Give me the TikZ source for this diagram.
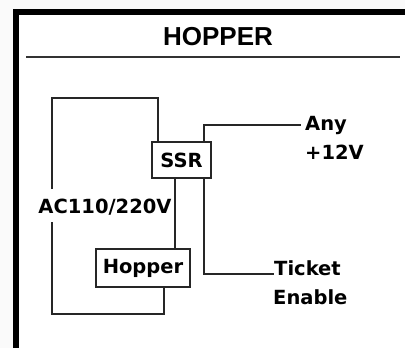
\documentclass[tikz,border=0pt]{standalone}
\usepackage{fontspec}
\setmainfont{Liberation Sans}
\newfontfamily\labelfont{DejaVu Sans}
\tikzset{
    wire/.style={line width=1.2pt, color=black!85},
    lbl/.style={font=\labelfont\bfseries\fontsize{19.5}{20}\selectfont, inner sep=0pt, anchor=west},
    device/.style={lbl, anchor=center, draw=black!85, line width=1.2pt, fill=white}
}
\begin{document}
\begin{tikzpicture}[x=1pt,y=-1pt]
    \useasboundingbox (0,0) rectangle (405,348);
    % Draw the frame
    \fill[black!2] (0,0) rectangle (405,348);
    \fill[white] (13,9) rectangle (405,348);
    \fill[black] (13,9) rectangle (405,14.5);
    \fill[black] (13,9) rectangle (19,348);
    % Title and its rule
    \node[font=\bfseries\fontsize{26}{28}\selectfont, inner sep=0pt] (title) at (218,37) {HOPPER};
    \coordinate (ruleL) at (26,57);
    \coordinate (ruleR) at (400,57);
    \draw[line width=1.5pt, color=black!80] (ruleL) -- (ruleR);
    % Boxes
    \node[device, minimum width=59pt, minimum height=36pt] (ssr) at (181.5,160) {SSR};
    \node[device, minimum width=94pt, minimum height=38pt] (hopper) at (143,268) {Hopper};
    % Labels
    \node[lbl] (any) at (305,125) {Any};
    \node[lbl] (volt) at (305,152) {+12V};
    \node[lbl] (ticket) at (274,268) {Ticket};
    \node[lbl] (enable) at (273,297) {Enable};
    \node[lbl, anchor=center] (ac) at (105,207) {AC110/220V};
    % Draw the wires
    \coordinate (acUp) at (52,189);
    \coordinate (acDown) at (52,222);
    \coordinate (topRun) at (158,98);
    \coordinate (botRun) at (164,314);
    \coordinate (link) at (175,200);
    \coordinate (anyRun) at (204,125);
    \coordinate (ticketRun) at (204,274);
    \draw[wire] (acUp) |- (topRun) -- (topRun |- ssr.north);
    \draw[wire] (acDown) |- (botRun) -- (botRun |- hopper.south);
    \draw[wire] (link |- ssr.south) -- (link |- hopper.north);
    \draw[wire] (anyRun |- ssr.north) -- (anyRun) -- ([xshift=-4pt]any.west);
    \draw[wire] (ticketRun |- ssr.south) -- (ticketRun) -- (ticketRun -| ticket.west);
\end{tikzpicture}
\end{document}
